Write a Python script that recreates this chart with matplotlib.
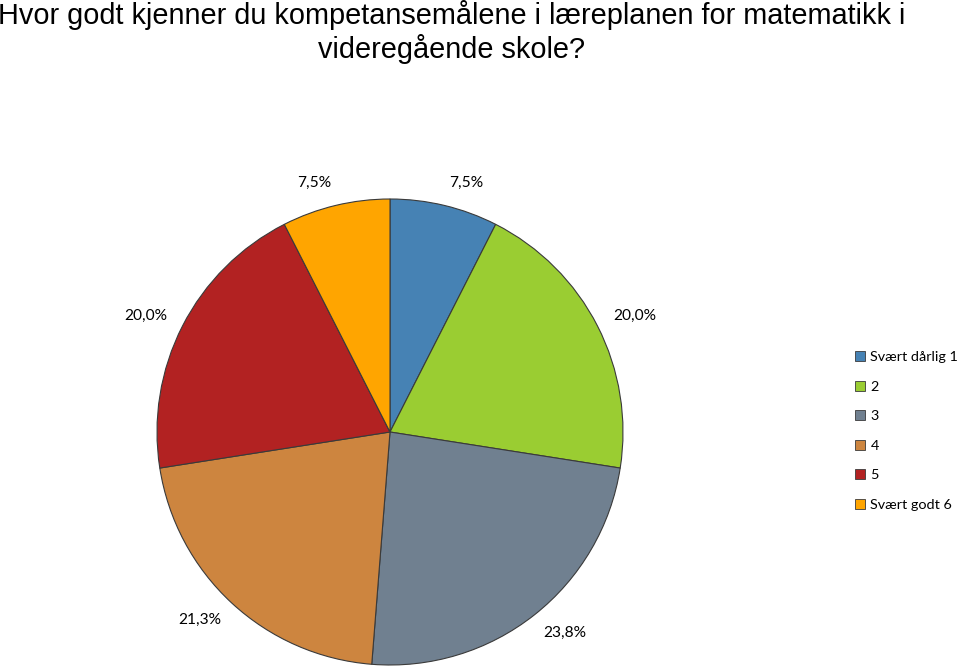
import matplotlib
matplotlib.use("Agg")
import matplotlib.pyplot as plt

categories = ["Svært dårlig 1", "2", "3", "4", "5", "Svært godt 6"]
values = [7.5, 20.0, 23.8, 21.3, 20.0, 7.5]
colors = ["#4682B4", "#9ACD32", "#708090", "#CD853F", "#B22222", "#FFA500"]
title = "Hvor godt kjenner du kompetansemålene i læreplanen for matematikk i\nvideregående skole?"

plt.rcParams['font.family'] = ['Lato', 'DejaVu Sans']

fig = plt.figure(figsize=(9.6, 6.69), dpi=100)
# pie centre ~ (390, 432) px, radius ~233 px
ax = fig.add_axes([(390 - 233) / 960, (669 - 432 - 233) / 669, 466 / 960, 466 / 669])

labels = [("%.1f%%" % v).replace(".", ",") for v in values]
wedges, texts = ax.pie(values, colors=colors, startangle=90, counterclock=False,
                       labels=labels, labeldistance=1.1,
                       wedgeprops=dict(edgecolor="#3a3a3a", linewidth=0.8))
for t in texts:
    x, y = t.get_position()
    # push labels sideways a little, like excel does
    t.set_position((x + (0.07 if x > 0 else -0.07), y))
    t.set_ha("center")
    t.set_va("center")
    t.set_fontsize(11.2)
ax.set_xlim(-1, 1)
ax.set_ylim(-1, 1)
ax.set_aspect("equal")

fig.text(452 / 960, 1 - 0 / 669, title, ha="center", va="top",
         fontsize=20.8, family=["Liberation Sans", "DejaVu Sans"], linespacing=1.15)

leg = fig.legend(wedges, categories, loc="upper left", bbox_to_anchor=(855 / 960, 1 - 351 / 669),
                 frameon=False, fontsize=10.4, handlelength=0.72, handleheight=0.72,
                 handletextpad=0.35, labelspacing=1.2, borderpad=0, borderaxespad=0)
for h in leg.legend_handles:
    h.set_linewidth(0.6)
    h.set_edgecolor("#3a3a3a")

plt.savefig("out.png", dpi=100)
